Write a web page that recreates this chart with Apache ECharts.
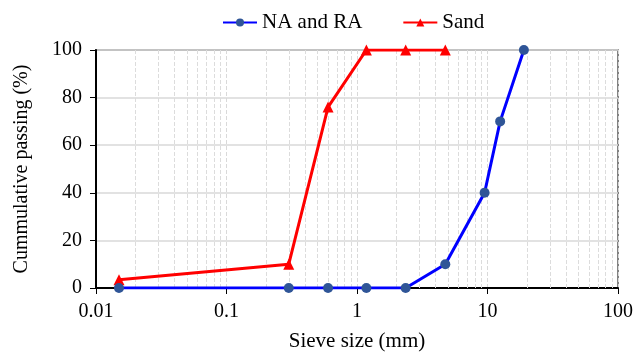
<!DOCTYPE html>
<html>
<head>
<meta charset="utf-8">
<script src="https://cdn.jsdelivr.net/npm/echarts@6/dist/echarts.min.js"></script>
<style>
  html, body { margin: 0; padding: 0; background: #fff; }
  #main { width: 644px; height: 356px; }
</style>
</head>
<body>
<div id="main"></div>
<script>
// sieve sizes (mm) and cumulative passing (%)
var naSizes = [0.015, 0.3, 0.6, 1.18, 2.36, 4.75, 9.5, 12.5, 19];
var naPassing = [0, 0, 0, 0, 0, 10, 40, 70, 100];
var sandSizes = [0.015, 0.3, 0.6, 1.18, 2.36, 4.75];
var sandPassing = [3.5, 10, 76, 100, 100, 100];
// minor log gridlines 2..9 in each decade
var minorSteps = [2, 3, 4, 5, 6, 7, 8, 9];
var decades = [0.01, 0.1, 1, 10];

var chart = echarts.init(document.getElementById("main"));

function pairs(xs, ys) {
  var out = [];
  xs.forEach(function (x, i) {
    out.push([x, ys[i]]);
  });
  return out;
}

var minorLines = [];
decades.forEach(function (d) {
  minorSteps.forEach(function (m) {
    minorLines.push({ xAxis: +(d * m).toPrecision(3) });
  });
});

var font = "Liberation Serif";

var option = {
  animation: false,
  textStyle: { fontFamily: font },
  legend: {
    top: 7,
    left: 217,
    itemWidth: 34,
    itemHeight: 10,
    itemGap: 40,
    textStyle: { fontFamily: font, fontSize: 21, color: "#000" },
    data: ["NA and RA", "Sand"],
  },
  grid: {
    left: 96,
    right: 26,
    top: 50,
    bottom: 68,
    outerBoundsMode: "none",
    show: true,
    borderColor: "#595959",
    borderWidth: 1.5,
  },
  xAxis: {
    type: "log",
    logBase: 10,
    min: 0.01,
    max: 100,
    name: "Sieve size (mm)",
    nameLocation: "middle",
    nameGap: 43,
    nameTextStyle: { fontFamily: font, fontSize: 21, color: "#000" },
    axisLine: { show: true, lineStyle: { color: "#000", width: 2 } },
    axisTick: { show: true, length: 6, lineStyle: { color: "#000" } },
    axisLabel: {
      fontFamily: font,
      fontSize: 20,
      color: "#000",
      margin: 14,
      formatter: function (v) {
        return String(v);
      },
    },
    splitLine: { show: true, lineStyle: { color: "#d9d9d9", type: "dashed" } },
  },
  yAxis: {
    type: "value",
    min: 0,
    max: 100,
    interval: 20,
    name: "Cummulative passing (%)",
    nameLocation: "middle",
    nameGap: 64,
    nameTextStyle: { fontFamily: font, fontSize: 20, color: "#000" },
    axisLine: { show: true, lineStyle: { color: "#000", width: 2 } },
    axisTick: { show: true, length: 6, lineStyle: { color: "#000" } },
    axisLabel: { fontFamily: font, fontSize: 20, color: "#000", margin: 14 },
    splitLine: { show: true, lineStyle: { color: "#d9d9d9", width: 1.5 } },
  },
  series: [
    {
      name: "NA and RA",
      type: "line",
      data: pairs(naSizes, naPassing),
      symbol: "circle",
      symbolSize: 10,
      z: 4,
      lineStyle: { color: "#0000ff", width: 3 },
      itemStyle: { color: "#2f5597", borderWidth: 0 },
      markLine: {
        silent: true,
        symbol: "none",
        label: { show: false },
        lineStyle: { color: "#dcdcdc", type: "dashed", width: 1 },
        z: 1,
        data: minorLines,
      },
    },
    {
      name: "Sand",
      type: "line",
      data: pairs(sandSizes, sandPassing),
      symbol: "triangle",
      symbolSize: 11,
      z: 3,
      lineStyle: { color: "#ff0000", width: 3 },
      itemStyle: { color: "#ff0000", borderWidth: 0 },
    },
  ],
};

chart.setOption(option);
</script>
</body>
</html>
